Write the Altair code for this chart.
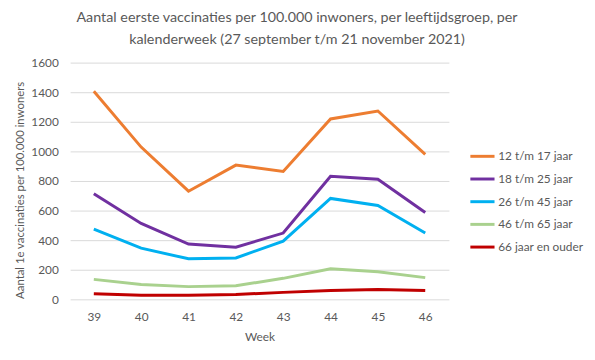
import altair as alt
import pandas as pd

weeks = ["39", "40", "41", "42", "43", "44", "45", "46"]
groups = ["12 t/m 17 jaar", "18 t/m 25 jaar", "26 t/m 45 jaar", "46 t/m 65 jaar", "66 jaar en ouder"]
v_12_17 = [1407, 1029, 731, 907, 864, 1219, 1273, 980]
v_18_25 = [713, 513, 374, 352, 448, 831, 812, 587]
v_26_45 = [474, 346, 274, 280, 393, 682, 634, 448]
v_46_65 = [135, 101, 86, 92, 142, 207, 187, 147]
v_66 = [38, 27, 27, 33, 47, 60, 67, 60]
colors = ["#ED7D31", "#7030A0", "#00B0F0", "#A9D18E", "#C00000"]

series = [v_12_17, v_18_25, v_26_45, v_46_65, v_66]
rows = []
for g, vals in zip(groups, series):
    for w, v in zip(weeks, vals):
        rows.append({"week": w, "groep": g, "waarde": v})
df = pd.DataFrame(rows)

FONT = "Lato"
GREY = "#595959"

chart = alt.Chart(df).mark_line(strokeWidth=3).encode(
    x=alt.X("week:O", sort=weeks,
            scale=alt.Scale(type="point", padding=0.5),
            axis=alt.Axis(title="Week", labelAngle=0, ticks=False, domain=False,
                          labelPadding=12, titlePadding=10)),
    y=alt.Y("waarde:Q", scale=alt.Scale(domain=[0, 1600], nice=False),
            axis=alt.Axis(title="Aantal 1e vaccinaties per 100.000 inwoners",
                          values=list(range(0, 1601, 200)), format="d",
                          ticks=False, domain=False,
                          labelPadding=12, titlePadding=5, titleFontSize=11.5,
                          titleY=129)),
    color=alt.Color("groep:N", sort=groups,
                    scale=alt.Scale(domain=groups, range=colors),
                    legend=alt.Legend(title=None, orient="none", legendX=404, legendY=81,
                                      symbolType="stroke", symbolStrokeWidth=3,
                                      symbolSize=600, rowPadding=3,
                                      labelFontSize=12, labelColor=GREY, labelFont=FONT,
                                      labelOffset=2)),
    order=alt.Order("week:O"),
).properties(
    width=384, height=240,
    title=alt.Title(["Aantal eerste vaccinaties per 100.000 inwoners, per leeftijdsgroep, per",
                     "kalenderweek (27 september t/m 21 november 2021)"],
                    anchor="middle", dx=38, fontSize=14.5, fontWeight="normal",
                    color=GREY, font=FONT, lineHeight=23, offset=9),
    autosize="none",
    padding={"left": 63, "top": 53, "right": 140, "bottom": 50},
).configure_axis(
    labelFont=FONT, titleFont=FONT, labelColor=GREY, titleColor=GREY,
    labelFontSize=12, titleFontSize=12, titleFontWeight="normal",
    gridColor="#D9D9D9", gridWidth=1,
).configure_view(stroke=None)

chart.save("out.html", embed_options={"renderer": "svg", "actions": False})
